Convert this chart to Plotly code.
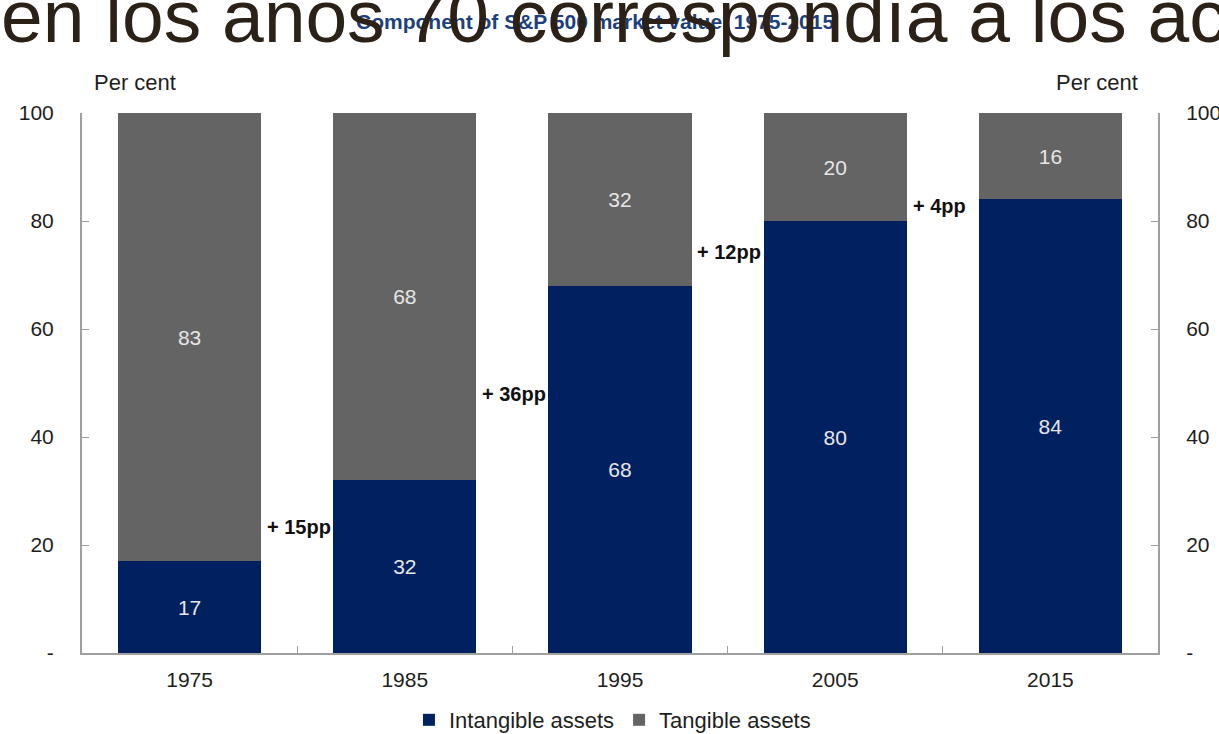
import plotly.graph_objects as go

years = ["1975", "1985", "1995", "2005", "2015"]
intangible = [17, 32, 68, 80, 84]
tangible = [83, 68, 32, 20, 16]
change_labels = ["+ 15pp", "+ 36pp", "+ 12pp", "+ 4pp"]
change_heights = [23.3, 48.0, 74.3, 82.8]
y_ticks = [0, 20, 40, 60, 80, 100]
y_ticktext = ["-", "20", "40", "60", "80", "100"]

NAVY = "#002060"
GRAY = "#646464"
FONT = "Liberation Sans, Arial, sans-serif"
TXT = "#1e1e1e"

W, H = 1219, 734
L, R, T, B = 82, 61, 113, 81
pw, ph = W - L - R, H - T - B

def px_x(x):
    return (x - L) / pw

def px_y(y):
    return (H - B - y) / ph

fig = go.Figure()
fig.add_trace(go.Bar(
    x=years, y=intangible, name="Intangible assets", marker_color=NAVY,
    marker_line_width=0, width=0.665,
    text=[str(v) for v in intangible], textposition="inside",
    insidetextanchor="middle", textangle=0, constraintext="none",
    textfont=dict(family=FONT, size=21, color="#e6e6e6"),
))
fig.add_trace(go.Bar(
    x=years, y=tangible, name="Tangible assets", marker_color=GRAY,
    marker_line_width=0, width=0.665,
    text=[str(v) for v in tangible], textposition="inside",
    insidetextanchor="middle", textangle=0, constraintext="none",
    textfont=dict(family=FONT, size=21, color="#e6e6e6"),
))
# invisible trace to activate the right axis
fig.add_trace(go.Scatter(x=years, y=intangible, yaxis="y2", mode="markers",
                         marker=dict(opacity=0), showlegend=False, hoverinfo="skip"))

for i, (lab, hgt) in enumerate(zip(change_labels, change_heights)):
    fig.add_annotation(x=i + 0.35, y=hgt, xref="x", yref="y", text=f"<b>{lab}</b>",
                       showarrow=False, xanchor="left", yanchor="middle",
                       font=dict(family=FONT, size=20, color="#111111"))

fig.add_annotation(x=px_x(135), y=px_y(83), xref="paper", yref="paper", text="Per cent",
                   showarrow=False, xanchor="center", yanchor="middle",
                   font=dict(family=FONT, size=22, color=TXT))
fig.add_annotation(x=px_x(1097), y=px_y(83), xref="paper", yref="paper", text="Per cent",
                   showarrow=False, xanchor="center", yanchor="middle",
                   font=dict(family=FONT, size=22, color=TXT))

fig.add_annotation(x=px_x(595), y=px_y(21), xref="paper", yref="paper",
                   text="<b>Component of S&P 500 market value, 1975-2015</b>",
                   showarrow=False, xanchor="center", yanchor="middle",
                   font=dict(family=FONT, size=21, color="#1d3f7c"))
fig.add_annotation(x=px_x(-1), y=px_y(16), xref="paper", yref="paper",
                   text="en los años 70 correspondía a los ac",
                   showarrow=False, xanchor="left", yanchor="middle",
                   font=dict(family=FONT, size=75, color="#2c2116"))

axis_line = "#a0a0a0"
fig.update_layout(
    width=W, height=H, barmode="stack", bargap=0.335,
    margin=dict(l=L, r=R, t=T, b=B, autoexpand=False),
    plot_bgcolor="white", paper_bgcolor="white",
    font=dict(family=FONT, size=21, color=TXT),
    xaxis=dict(showline=True, linecolor=axis_line, linewidth=2, ticks="inside",
               tickson="boundaries", ticklen=7, tickcolor=axis_line, tickwidth=1,
               showgrid=False, tickfont=dict(size=21, color=TXT), ticklabelstandoff=7,
               range=[-0.5, 4.5]),
    yaxis=dict(range=[0, 100], tickvals=y_ticks, ticktext=y_ticktext, showgrid=False,
               showline=True, linecolor=axis_line, linewidth=2, ticks="inside",
               ticklen=7, tickcolor=axis_line, zeroline=False,
               tickfont=dict(size=21, color=TXT), ticklabelstandoff=22),
    yaxis2=dict(range=[0, 100], tickvals=y_ticks, ticktext=y_ticktext, showgrid=False,
                overlaying="y", side="right", showline=True, linecolor=axis_line,
                linewidth=2, ticks="inside", ticklen=7, tickcolor=axis_line,
                zeroline=False, tickfont=dict(size=21, color=TXT), ticklabelstandoff=22),
    legend=dict(orientation="h", x=0.493, xanchor="center", y=px_y(720), yanchor="middle",
                font=dict(size=22, color=TXT), itemsizing="constant", traceorder="normal"),
    showlegend=True,
)

fig.write_html("out.html", config={"displayModeBar": False},
               post_script="document.body.style.margin='0';document.body.style.overflow='hidden';")
